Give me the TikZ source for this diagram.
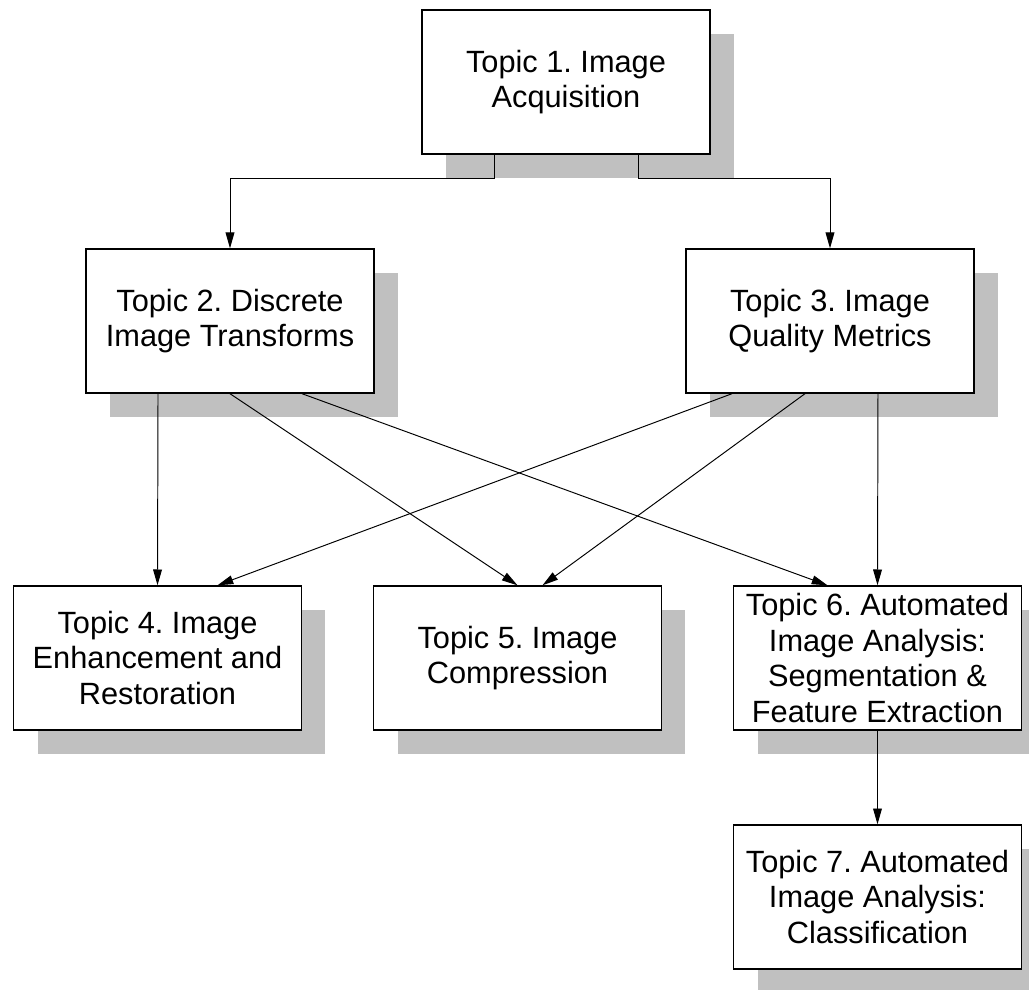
\documentclass[tikz,border=0pt]{standalone}
\usepackage{fontspec}
\setmainfont{Liberation Sans}
\usetikzlibrary{arrows.meta,shadows}

\definecolor{shadowgray}{RGB}{192,192,192}
\frenchspacing

\begin{document}
\begin{tikzpicture}[x=0.02cm,y=-0.02cm,->,>={Triangle[length=9pt,width=5pt]},line width=0.55pt,
                    topic node/.style={rectangle,draw,line width=0.8pt,fill=white,align=center,
                      minimum width=5.76cm,minimum height=2.88cm,inner sep=0pt,
                      font=\fontsize{17.5}{20.4}\selectfont,
                      drop shadow={shadow xshift=0.48cm,shadow yshift=-0.48cm,fill=shadowgray,opacity=1}}]
  \useasboundingbox (0,0) rectangle (1029,990);

  \node[topic node] (1) at (566,82) {Topic 1. Image\\Acquisition};
  \node[topic node] (2) at (230,321) {Topic 2. Discrete\\Image Transforms};
  \node[topic node] (3) at (830,321) {Topic 3. Image\\Quality Metrics};
  \node[topic node] (4) at (157.5,658) {Topic 4. Image\\Enhancement and\\Restoration};
  \node[topic node] (5) at (517.5,658) {Topic 5. Image\\Compression};
  \node[topic node] (6) at (877.5,658) {Topic 6. Automated\\Image Analysis:\\Segmentation \&\\Feature Extraction};
  \node[topic node] (7) at (877.5,897) {Topic 7. Automated\\Image Analysis:\\Classification};

  % from topic 1
  \draw ([xshift=-1.44cm]1.south) -- ++(0,24) -| (2.north);
  \draw ([xshift=1.44cm]1.south) -- ++(0,24) -| (3.north);

  % from topics 2 and 3
  \path ([xshift=-1.44cm]2.south) edge (4.north);
  \path (2.south) edge (5.north);
  \path ([xshift=1.44cm]2.south) edge ([xshift=-1cm]6.north);
  \path ([xshift=-1.96cm]3.south) edge ([xshift=1.2cm]4.north)
        ([xshift=-0.5cm]3.south) edge ([xshift=0.5cm]5.north)
        ([xshift=0.96cm]3.south) edge (6.north);

  \path (6.south) edge (7.north);
\end{tikzpicture}
\end{document}
